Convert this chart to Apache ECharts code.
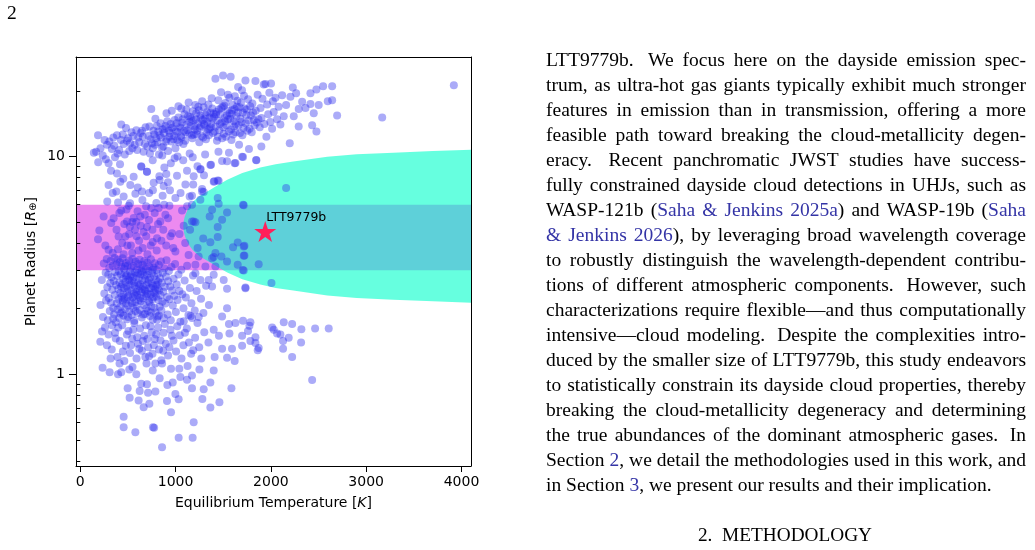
<!DOCTYPE html>
<html>
<head>
<meta charset="utf-8">
<script src="https://cdn.jsdelivr.net/npm/echarts@6/dist/echarts.min.js"></script>
<style>
  html, body { margin: 0; padding: 0; background: #fff; }
  #main { width: 1035px; height: 550px; }
</style>
</head>
<body>
<div id="main"></div>
<script>
// axis ticks
const xTicks = [0, 1000, 2000, 3000, 4000];
const yTicks = [1, 10];
const yMinorTicks = [0.4, 0.5, 0.6, 0.7, 0.8, 0.9, 2, 3, 4, 5, 6, 7, 8, 9, 20];
const xRange = [-45, 4100];
const yRange = [0.379, 28.6];

// radius band (pink) and the teal region, in data units
const radiusBand = [3, 6];
const tealT = [1081, 1086, 1095, 1110, 1130, 1155, 1186, 1250, 1364, 1450, 1542, 1700, 1889, 2050, 2235, 2592, 2900, 3284, 3700, 4100];
const tealUpperR = [4.79, 5.07, 5.27, 5.49, 5.73, 5.97, 6.21, 6.58, 7.03, 7.41, 7.82, 8.38, 8.89, 9.21, 9.48, 9.97, 10.23, 10.39, 10.59, 10.73];
const tealLowerR = [4.79, 4.52, 4.35, 4.17, 4.00, 3.84, 3.69, 3.48, 3.26, 3.09, 2.93, 2.73, 2.58, 2.49, 2.42, 2.30, 2.24, 2.20, 2.16, 2.13];

const target = { name: 'LTT9779b', teq: 1941, radius: 4.52 };

// planets [Teq K, radius Re]
const giantPts = [
  [142,10.4],[166,10.5],[188,9.4],[186,12.5],[212,10.9],[236,10.1],[255,11.9],[268,9.7],[281,11.3],[297,9.3],
  [305,11.7],[322,8.6],[331,10.8],[347,12.2],[357,11.2],[364,9.9],[385,12.5],[392,10.3],[408,10.7],[417,9.2],
  [426,11.9],[430,14.0],[446,12.6],[455,11.4],[467,10.2],[480,13.5],[489,11.8],[502,12.1],[514,10.6],[523,11.5],
  [538,12.9],[547,10.9],[556,12.4],[571,11.3],[588,13.2],[597,10.7],[608,12.2],[619,11.6],[633,12.8],[648,13.1],
  [640,9.0],[657,12.3],[664,10.5],[678,11.4],[685,13.6],[699,8.5],[703,11.1],[716,12.4],[725,13.7],[731,10.3],
  [738,12.0],[745,16.5],[752,11.5],[761,10.9],[768,13.1],[776,12.6],[783,11.3],[788,14.9],[796,12.1],[803,13.8],
  [812,11.6],[819,13.0],[826,10.2],[834,12.5],[842,14.2],[849,12.2],[857,11.0],[863,13.3],[871,11.1],[878,12.8],
  [884,13.4],[893,13.8],[899,11.7],[906,12.0],[913,14.5],[921,10.6],[928,13.1],[934,12.3],[941,12.8],[948,14.1],
  [955,11.7],[962,13.5],[970,13.6],[977,12.0],[985,12.4],[991,14.7],[998,10.9],[1004,13.0],[1011,14.2],[1017,11.9],
  [1022,12.9],[1029,15.1],[1036,11.6],[1043,13.7],[1050,13.5],[1057,12.4],[1062,12.2],[1068,14.3],[1075,14.8],[1082,11.4],
  [1088,13.1],[1094,15.6],[1101,11.8],[1107,12.9],[1113,16.4],[1118,14.0],[1124,13.2],[1131,15.3],[1137,17.7],[1142,12.7],
  [1148,14.4],[1151,15.2],[1158,13.8],[1163,14.9],[1169,12.5],[1176,12.1],[1181,16.1],[1186,14.6],[1192,12.6],[1197,13.7],
  [1202,13.3],[1208,17.2],[1211,14.8],[1216,15.8],[1223,12.6],[1227,13.1],[1234,14.2],[1239,16.9],[1244,16.3],[1249,11.6],
  [1253,13.5],[1258,15.4],[1264,15.0],[1268,13.8],[1274,12.4],[1279,17.9],[1284,14.7],[1289,12.2],[1294,16.8],[1298,14.1],
  [1304,13.9],[1309,14.9],[1314,15.5],[1319,12.0],[1325,12.9],[1329,16.0],[1334,14.4],[1339,13.3],[1345,17.3],[1349,12.5],
  [1354,13.4],[1358,15.1],[1365,15.9],[1368,13.6],[1374,14.1],[1379,18.5],[1385,16.6],[1389,14.9],[1394,12.8],[1399,15.7],
  [1404,15.2],[1409,13.0],[1418,22.7],[1421,13.7],[1424,15.6],[1429,16.0],[1434,11.8],[1439,14.6],[1444,12.3],[1449,18.1],
  [1455,16.4],[1459,13.2],[1464,14.1],[1469,15.6],[1477,19.7],[1479,16.7],[1484,14.3],[1489,12.1],[1494,16.9],[1498,23.5],
  [1502,13.6],[1506,12.7],[1511,17.1],[1514,15.0],[1519,14.5],[1524,17.6],[1529,12.3],[1534,13.9],[1539,15.4],[1544,16.2],
  [1549,19.2],[1553,14.8],[1558,13.0],[1564,18.6],[1568,15.8],[1573,14.9],[1578,23.2],[1581,13.3],[1586,11.9],[1589,15.7],
  [1594,16.3],[1599,17.2],[1604,12.6],[1609,14.5],[1614,13.7],[1619,16.5],[1622,18.9],[1629,12.9],[1633,14.1],[1639,15.3],
  [1644,16.9],[1649,18.0],[1655,15.9],[1656,20.8],[1661,13.9],[1666,11.3],[1671,16.8],[1676,12.8],[1681,14.9],[1686,17.7],
  [1692,14.4],[1697,20.1],[1701,12.5],[1706,15.9],[1712,13.5],[1718,19.0],[1724,16.6],[1733,22.3],[1736,14.2],[1741,15.5],
  [1747,16.4],[1753,13.1],[1761,18.3],[1768,14.6],[1776,13.4],[1783,17.0],[1791,15.4],[1799,12.9],[1806,17.5],[1813,15.9],
  [1821,14.7],[1829,13.9],[1838,22.2],[1841,16.2],[1852,14.3],[1861,19.2],[1869,14.8],[1883,13.6],[1891,16.7],[1901,15.0],
  [1912,18.4],[1925,21.4],[1932,14.1],[1943,21.5],[1953,12.3],[1961,17.3],[1972,15.6],[1984,19.6],[1995,14.4],[2002,21.6],
  [2013,13.4],[2021,17.9],[2030,16.0],[2048,18.6],[2065,14.8],[2081,16.9],[2100,14.0],[2118,19.1],[2135,15.3],[2160,17.2],
  [2198,11.5],[2205,18.8],[2230,20.7],[2240,15.3],[2265,19.5],[2292,13.7],[2292,16.5],[2328,17.8],[2363,16.7],[2415,19.5],
  [2415,17.4],[2433,13.9],[2450,15.8],[2478,20.3],[2478,13.0],[2502,17.2],[2548,21.0],[2597,17.9],[2643,21.0],[2643,18.1],
  [2695,15.4],[3168,15.1],[3920,21.2],[905,15.8],[960,16.2],[1030,17.0],[1060,16.6],
  [1015,8.15],[1103,7.43],[1260,8.71],[1365,9.12],[1488,9.52],[1620,9.29],[1698,9.97],[1845,9.63],[1708,9.94],[1400,7.65],
  [1452,7.73],[1540,9.49],[1628,9.33],[1372,9.16],[1262,8.75],[1148,10.3],[1080,9.6],[1180,9.9],[1310,10.2],[1560,10.4],
  [1770,10.8],[1900,11.1],[1021,10.0],[950,9.3],[882,8.9],[1230,9.0],[1450,10.5],[2160,7.16],[1848,9.59],[1406,7.68],
  [1442,7.76],[1278,7.08],[1298,8.2],[1120,8.6],[990,9.8],[860,10.1],[760,9.6],[830,8.1],[920,7.6],[1190,8.1],
  [297,7.39],[385,8.35],[420,7.65],[525,7.39],[560,8.07],[640,8.97],[700,8.51],[770,7.57],[875,7.31],[1185,7.43]
];

const neptunePts = [
  [325,4.94],[200,4.57],[186,4.17],[297,3.73],[340,3.60],[402,4.29],[473,4.29],[430,5.65],[508,5.93],[396,6.15],
  [490,5.03],[560,5.21],[630,5.30],[700,4.74],[822,5.80],[893,5.40],[935,5.93],[840,5.03],[1068,5.65],[1208,4.99],
  [1172,5.03],[1085,4.80],[963,4.44],[805,4.21],[998,3.66],[1137,3.53],[1242,3.47],[1383,3.41],[1418,3.60],[340,6.79],
  [455,6.55],[578,6.74],[648,6.90],[864,6.60],[998,6.44],[1172,6.60],[1278,6.90],[798,6.11],[350,5.2],[380,4.6],
  [410,5.5],[440,4.0],[462,4.9],[485,5.7],[513,4.4],[531,3.9],[546,5.0],[574,4.6],[601,5.6],[617,4.1],
  [634,4.8],[655,3.8],[677,5.4],[692,4.3],[721,5.1],[739,3.9],[757,4.6],[781,5.5],[802,3.7],[816,4.9],
  [851,4.1],[871,4.6],[902,3.9],[921,5.2],[946,4.3],[976,3.8],[1041,4.4],[1101,4.0],[1152,4.6],[1231,3.8],
  [1290,4.2],[652,6.3],[722,6.8],[762,7.0],[603,7.2],[451,7.9],[378,6.9],[522,6.1],[832,7.8],[903,8.3],
  [941,7.0],[1052,6.8],[1121,5.9],[691,5.9],[588,5.0],[495,3.9],[263,3.9],[245,5.3],[283,6.2],[545,3.6],
  [610,3.7],[705,3.55],[760,4.05],[455,3.55],[395,3.75],[520,4.75],[665,4.5],[590,4.3],[745,5.8],[880,6.0],
  [1708,6.0],[1442,6.44],[1452,6.07],[1540,5.53],[1488,5.12],[1383,5.69],[1358,5.30],[1190,5.02],[1442,4.74],[1442,4.27],
  [1365,4.04],[1603,3.83],[1652,4.02],[1722,3.89],[1722,3.51],[1481,3.47],[1540,3.29],[1652,3.18],[1872,3.20],[1715,2.99],
  [1400,3.45],[1260,6.32],[1295,6.86],[1172,6.0],[1148,6.55],[1715,3.86],[1715,3.50],[1705,3.01],[1715,5.96]
];

const subNeptunePts = [
  [212,2.08],[226,2.71],[238,1.83],[247,3.22],[252,2.35],[259,1.64],[266,2.92],[271,2.18],[278,3.38],[284,2.51],
  [289,1.77],[293,2.86],[299,2.24],[304,3.07],[309,1.95],[314,2.62],[318,3.31],[323,2.13],[328,2.79],[333,1.68],
  [336,2.44],[341,3.15],[346,2.02],[351,2.68],[355,1.88],[359,3.42],[363,2.31],[367,2.95],[372,1.73],[376,2.57],
  [380,3.19],[383,2.12],[387,2.83],[391,1.98],[394,3.36],[398,2.46],[401,2.21],[405,2.97],[408,1.81],[412,2.64],
  [415,3.27],[419,2.36],[422,2.04],[426,2.88],[429,3.12],[433,2.27],[436,1.92],[440,2.59],[443,3.41],[447,2.15],
  [450,2.74],[453,1.86],[457,2.48],[460,3.05],[463,2.22],[467,2.91],[470,1.99],[474,2.66],[477,3.24],[481,2.11],
  [484,2.53],[488,2.85],[491,1.79],[494,2.39],[498,3.16],[501,2.07],[505,2.72],[508,2.29],[512,3.33],[515,1.94],
  [519,2.58],[522,2.96],[526,2.18],[529,2.81],[533,3.09],[536,2.43],[540,1.87],[543,2.67],[547,3.38],[550,2.25],
  [553,2.02],[557,2.78],[560,3.14],[564,2.34],[567,1.76],[571,2.55],[574,2.93],[577,2.14],[581,3.28],[584,2.47],
  [588,2.06],[591,2.84],[595,3.02],[598,2.31],[602,1.91],[605,2.62],[608,3.21],[612,2.19],[615,2.76],[619,2.41],
  [622,3.35],[625,1.97],[629,2.58],[632,2.88],[636,2.16],[639,3.07],[643,2.37],[646,1.82],[650,2.69],[653,3.18],
  [657,2.23],[660,2.52],[664,2.95],[667,2.08],[671,3.31],[674,2.44],[678,1.89],[681,2.73],[685,3.04],[688,2.28],
  [692,2.57],[695,2.01],[699,2.86],[702,3.26],[706,2.35],[709,1.95],[713,2.64],[716,2.98],[720,2.17],[724,3.12],
  [727,2.49],[731,1.85],[734,2.77],[738,2.32],[741,3.37],[745,2.05],[749,2.61],[752,2.91],[756,2.21],[760,1.78],
  [763,2.54],[767,3.09],[771,2.38],[775,2.82],[778,2.02],[782,3.23],[786,2.45],[790,1.92],[794,2.71],[797,2.27],
  [801,3.01],[806,2.56],[810,1.84],[815,2.89],[819,2.19],[824,3.17],[828,2.43],[833,2.04],[837,2.76],[842,2.31],
  [847,3.29],[851,1.96],[856,2.63],[861,2.15],[866,2.92],[871,2.39],[876,1.81],[882,3.06],[887,2.52],[893,2.11],
  [899,2.81],[905,3.34],[911,2.26],[917,1.88],[923,2.67],[930,2.98],[936,2.21],[943,2.53],[950,1.77],[957,3.11],
  [964,2.42],[971,2.07],[979,2.74],[987,2.29],[995,3.21],[1003,1.93],[1012,2.58],[1021,2.19],[1030,2.87],[1040,2.41],
  [1050,1.74],[1060,3.02],[1071,2.33],[1083,2.01],[1095,2.69],[1108,2.25],[1121,3.15],[1135,1.87],[1150,2.49],[1166,2.12],
  [1183,2.84],[1201,1.96],[1221,2.41],[1243,1.83],[1267,2.22],[1292,1.91],[1320,2.55],[1350,2.08],
  [1540,2.01],[1488,1.84],[1785,1.73],[1628,1.72],[1172,1.81],[1383,2.53],[1260,2.71],[1347,2.71],[1208,2.91],[1313,3.12],
  [1418,3.12],[1505,2.71],[1540,2.47],[1733,2.50],[1400,2.86],[1208,3.18],[2006,2.62],[1733,2.48],
  [428,2.52],[452,2.33],[476,2.81],[497,2.26],[518,2.69],[541,2.12],[563,2.63],[586,2.38],[607,2.91],[628,2.24],
  [651,2.46],[672,2.84],[697,2.33],[718,2.71],[742,2.49],[768,2.26],[793,2.58],[818,2.66],[445,2.19],[470,3.14],
  [503,2.47],[537,2.87],[575,2.29],[613,2.55],[644,2.97],[683,2.41],[726,2.14],[757,3.02],[785,2.36],[812,2.47]
];

const rockyPts = [
  [455,0.638],[455,0.571],[578,0.541],[763,0.571],[775,0.568],[858,0.462],[1032,0.511],[1179,0.511],[1190,0.602],[952,0.669],
  [665,0.705],[725,0.731],[612,0.757],[518,0.780],[910,0.754],[1032,0.767],[1281,0.770],[1365,0.703],[1460,0.743],[1586,0.862],
  [1295,0.853],[1172,0.862],[998,0.812],[914,0.893],[788,0.832],[711,0.823],[623,0.838],[497,0.862],[700,0.900],[640,0.905],
  [833,0.958],[970,0.915],[1120,0.942],[1172,0.986],[1365,0.915],[1400,1.04],[1250,1.05],[1050,0.97],[234,1.07],[308,1.02],
  [396,1.00],[430,1.02],[514,1.05],[588,1.00],[760,1.04],[788,1.12],[858,1.12],[952,1.06],[1039,1.06],[1126,1.09],
  [1270,1.18],[1410,1.20],[1540,1.19],[1620,1.15],[1592,1.31],[210,1.41],[228,1.57],[297,1.52],[280,1.36],[330,1.30],
  [365,1.55],[390,1.20],[415,1.42],[440,1.68],[462,1.15],[478,1.35],[505,1.58],[522,1.25],[545,1.46],[567,1.72],
  [590,1.18],[605,1.38],[628,1.62],[646,1.28],[671,1.50],[695,1.12],[712,1.33],[736,1.66],[758,1.24],[781,1.45],
  [805,1.78],[826,1.30],[851,1.16],[873,1.55],[897,1.38],[921,1.22],[946,1.60],[978,1.43],[1005,1.27],[1044,1.51],
  [1082,1.36],[1118,1.62],[1163,1.24],[1205,1.47],[1248,1.33],[1301,1.56],[1345,1.40],[1230,1.72],[1158,1.85],[1086,1.75],
  [345,1.80],[420,1.90],[502,1.83],[580,1.95],[660,1.88],[740,1.92],[825,1.86],[412,1.12],[548,1.08],[683,1.20],
  [870,1.28],[318,1.18],[372,1.46],[398,1.64],[447,1.27],[489,1.52],[533,1.36],[556,1.60],[597,1.48],[619,1.31],
  [657,1.42],[688,1.68],[704,1.45],[722,1.21],[749,1.56],[772,1.36],[796,1.52],[816,1.64],[842,1.43],[887,1.70],
  [935,1.33],[962,1.50],[1018,1.66],[1062,1.18],[1098,1.55],[1140,1.40],[1185,1.29],
  [1708,1.76],[1775,1.67],[1698,1.50],[1698,1.35],[1785,1.42],[1838,1.48],[1838,1.39],[1872,1.32],[1862,1.29],[2013,1.64],
  [2030,1.60],[2065,1.54],[2100,1.52],[2135,1.73],[2223,1.70],[2128,1.42],[2128,1.31],[2187,1.47],[2320,1.61],[2317,1.40],
  [2223,1.20],[2464,1.62],[2607,1.62],[2433,0.94],[1760,1.58],[1565,1.54],[1400,1.60],[1488,1.31],[1455,1.50],[1560,1.70]
];

// text column on the right; {..} marks link-coloured parts
const paragraph = [
  "LTT9779b. We focus here on the dayside emission spec-",
  "trum, as ultra-hot gas giants typically exhibit much stronger",
  "features in emission than in transmission, offering a more",
  "feasible path toward breaking the cloud-metallicity degen-",
  "eracy. Recent panchromatic JWST studies have success-",
  "fully constrained dayside cloud detections in UHJs, such as",
  "WASP-121b ({Saha} {&} {Jenkins} {2025a}) and WASP-19b ({Saha}",
  "{&} {Jenkins} {2026}), by leveraging broad wavelength coverage",
  "to robustly distinguish the wavelength-dependent contribu-",
  "tions of different atmospheric components. However, such",
  "characterizations require flexible\u2014and thus computationally",
  "intensive\u2014cloud modeling. Despite the complexities intro-",
  "duced by the smaller size of LTT9779b, this study endeavors",
  "to statistically constrain its dayside cloud properties, thereby",
  "breaking the cloud-metallicity degeneracy and determining",
  "the true abundances of the dominant atmospheric gases. In",
  "Section {2}, we detail the methodologies used in this work, and",
  "in Section {3}, we present our results and their implication."
];
const heading = "2.  METHODOLOGY";
const pageNumber = "2";

const bodyFont = '19.5px "Liberation Serif"';
const linkColor = '#3434a6';
const textLeft = 546, textRight = 1026, firstLineY = 60.5, lineStep = 25;

const measure = document.createElement('canvas').getContext('2d');
measure.font = bodyFont;

function splitLinks(word) {
  const segs = [];
  let cur = '', blue = false;
  for (const ch of word) {
    if (ch === '{' || ch === '}') {
      if (cur) segs.push([cur, blue]);
      cur = '';
      blue = ch === '{';
    } else cur += ch;
  }
  if (cur) segs.push([cur, blue]);
  return segs;
}

const textEls = [];
function addText(t, x, y, font, fill) {
  textEls.push({
    type: 'text', x: x, y: y, silent: true, z: 100,
    style: { text: t, font: font, fill: fill, textVerticalAlign: 'middle', verticalAlign: 'middle' }
  });
}

paragraph.forEach(function (line, li) {
  const words = line.split(' ');
  const segWords = words.map(splitLinks);
  const widths = segWords.map(s => s.reduce((a, sg) => a + measure.measureText(sg[0]).width, 0));
  // wider gap after a full stop, like TeX does
  const weights = words.slice(0, -1).map(w => /\.\)?$/.test(w.replace(/[{}]/g, '')) ? 1.6 : 1);
  const total = widths.reduce((a, b) => a + b, 0);
  const wsum = weights.reduce((a, b) => a + b, 0);
  const last = li === paragraph.length - 1;
  const unit = last ? measure.measureText(' ').width : (textRight - textLeft - total) / wsum;
  const y = firstLineY + li * lineStep;
  let x = textLeft;
  segWords.forEach(function (segs, wi) {
    segs.forEach(function (sg) {
      addText(sg[0], x, y, bodyFont, sg[1] ? linkColor : '#000');
      x += measure.measureText(sg[0]).width;
    });
    if (wi < weights.length) x += unit * weights[wi];
  });
});

addText(pageNumber, 7, 13.5, bodyFont, '#000');
const headW = measure.measureText(heading).width;
const headSize = 19.5 * 174 / headW;
const headFont = headSize.toFixed(1) + 'px "Liberation Serif"';
measure.font = headFont;
addText(heading, 785 - measure.measureText(heading).width / 2, 536, headFont, '#000');

const starPath = 'path://M0,-10 L2.245,-3.09 L9.51,-3.09 L3.633,1.18 L5.878,8.09 L0,3.82 L-5.878,8.09 L-3.633,1.18 L-9.51,-3.09 L-2.245,-3.09 Z';
const tickFont = { color: '#000', fontSize: 14, fontFamily: 'DejaVu Sans', formatter: v => String(v) };

const chart = echarts.init(document.getElementById('main'));
chart.setOption({
  animation: false,
  backgroundColor: '#fff',
  grid: { left: 76, top: 57, width: 395, height: 409, outerBoundsMode: 'none' },
  graphic: { elements: textEls },
  xAxis: [{
    type: 'value', min: xRange[0], max: xRange[1], z: 10,
    axisLine: { onZero: false, lineStyle: { color: '#000', width: 1 } },
    axisTick: { customValues: xTicks, length: 6, lineStyle: { color: '#000' } },
    axisLabel: Object.assign({ customValues: xTicks, margin: 9 }, tickFont),
    splitLine: { show: false },
    name: 'Equilibrium Temperature [{i|K}]', nameLocation: 'middle', nameGap: 30, nameMoveOverlap: false,
    nameTextStyle: {
      color: '#000', fontSize: 14, fontFamily: 'DejaVu Sans',
      rich: { i: { fontStyle: 'italic', fontSize: 14, fontFamily: 'DejaVu Sans', color: '#000' } }
    }
  }, {
    type: 'value', min: xRange[0], max: xRange[1], position: 'top', z: 10,
    axisLine: { onZero: false, lineStyle: { color: '#000', width: 1 } },
    axisTick: { show: false }, axisLabel: { show: false }, splitLine: { show: false }
  }],
  yAxis: [{
    type: 'log', logBase: 10, min: yRange[0], max: yRange[1], z: 10,
    axisLine: { show: true, onZero: false, lineStyle: { color: '#000', width: 1 } },
    axisTick: { customValues: yTicks, length: 7, lineStyle: { color: '#000' } },
    axisLabel: Object.assign({ customValues: yTicks, margin: 11 }, tickFont),
    splitLine: { show: false },
    name: 'Planet Radius [{i|R}{s|\u2295}]', nameLocation: 'middle', nameGap: 38, nameMoveOverlap: false,
    nameTextStyle: {
      color: '#000', fontSize: 14, fontFamily: 'DejaVu Sans',
      rich: {
        i: { fontStyle: 'italic', fontSize: 14, fontFamily: 'DejaVu Sans', color: '#000' },
        s: { fontSize: 10, fontFamily: 'DejaVu Sans', color: '#000', verticalAlign: 'bottom' }
      }
    }
  }, {
    type: 'log', logBase: 10, min: yRange[0], max: yRange[1], position: 'left', z: 10,
    axisLine: { show: false },
    axisTick: { customValues: yMinorTicks, length: 4, lineStyle: { color: '#000' } },
    axisLabel: { show: false }, splitLine: { show: false }
  }, {
    type: 'log', logBase: 10, min: yRange[0], max: yRange[1], position: 'right', z: 10,
    axisLine: { show: true, onZero: false, lineStyle: { color: '#000', width: 1 } },
    axisTick: { show: false }, axisLabel: { show: false }, splitLine: { show: false }
  }],
  series: [{
    type: 'custom', z: 1, silent: true,
    data: [radiusBand],
    renderItem: function (params, api) {
      const p0 = api.coord([xRange[0], api.value(1)]);
      const p1 = api.coord([xRange[1], api.value(0)]);
      return {
        type: 'rect',
        shape: { x: p0[0], y: p0[1], width: p1[0] - p0[0], height: p1[1] - p0[1] },
        style: { fill: 'rgb(236,138,240)' }
      };
    }
  }, {
    type: 'custom', z: 2, silent: true,
    data: tealT.map((t, i) => [t, tealUpperR[i], tealLowerR[i]]),
    renderItem: function (params, api) {
      if (params.dataIndex !== 0) return null;
      const pts = [];
      tealT.forEach((t, i) => pts.push(api.coord([t, tealUpperR[i]])));
      for (let i = tealT.length - 1; i >= 0; i--) pts.push(api.coord([tealT[i], tealLowerR[i]]));
      return { type: 'polygon', shape: { points: pts }, style: { fill: 'rgba(0,255,202,0.6)' } };
    }
  }, {
    type: 'scatter', z: 3, silent: true,
    data: [].concat(giantPts, neptunePts, subNeptunePts, rockyPts),
    symbolSize: 8,
    itemStyle: { color: 'rgba(44,44,238,0.4)', opacity: 1 }
  }, {
    type: 'scatter', z: 4, silent: true,
    data: [[target.teq, target.radius]],
    symbol: starPath, symbolSize: 22, symbolKeepAspect: true,
    itemStyle: { color: '#ff1f5a', opacity: 1 },
    label: {
      show: true, formatter: target.name, position: 'top', distance: 0, align: 'left',
      offset: [1, 3], color: '#000', fontSize: 12.5, fontFamily: 'DejaVu Sans'
    }
  }]
});
</script>
</body>
</html>
